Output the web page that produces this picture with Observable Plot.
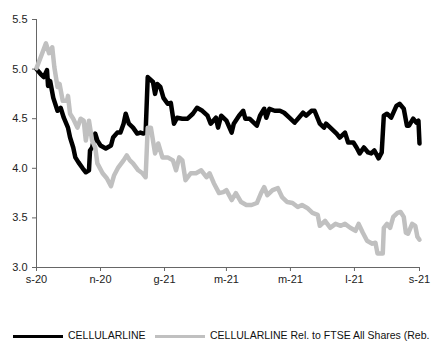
<!DOCTYPE html>
<html>
<head>
<meta charset="utf-8">
<script src="https://cdn.jsdelivr.net/npm/d3@7"></script>
<script src="https://cdn.jsdelivr.net/npm/@observablehq/plot@0.6"></script>
<style>
  html, body { margin: 0; padding: 0; background: #fff; }
  #wrap { position: relative; width: 432px; height: 341px; overflow: hidden; font-family: "Liberation Sans", Arial, sans-serif; }
  #legend { position: absolute; left: 0; top: 329px; width: 432px; height: 12px; font-size: 10.5px; color: #111; white-space: nowrap; }
  .item { position: absolute; top: 0; line-height: 12px; }
  .sw { position: absolute; top: 6px; width: 50px; height: 3px; }
  .lab { position: absolute; left: 55px; top: 0; }
</style>
</head>
<body>
<div id="wrap"><div id="chart"></div><div id="legend"></div></div>
<script>
const seriesNames = ["CELLULARLINE", "CELLULARLINE Rel. to FTSE All Shares (Reb."];

const blackDates = ["2020-09-01","2020-09-05","2020-09-08","2020-09-11","2020-09-12","2020-09-14","2020-09-17","2020-09-21","2020-09-24","2020-09-27","2020-10-01","2020-10-03","2020-10-06","2020-10-08","2020-10-11","2020-10-15","2020-10-18","2020-10-21","2020-10-22","2020-10-24","2020-10-27","2020-10-29","2020-11-01","2020-11-06","2020-11-11","2020-11-13","2020-11-17","2020-11-20","2020-11-23","2020-11-25","2020-11-28","2020-12-02","2020-12-06","2020-12-09","2020-12-12","2020-12-14","2020-12-16","2020-12-21","2020-12-23","2020-12-25","2020-12-28","2020-12-31","2021-01-04","2021-01-07","2021-01-10","2021-01-13","2021-01-18","2021-01-23","2021-01-28","2021-02-01","2021-02-06","2021-02-11","2021-02-14","2021-02-19","2021-02-21","2021-02-24","2021-03-01","2021-03-06","2021-03-08","2021-03-13","2021-03-17","2021-03-19","2021-03-23","2021-03-30","2021-04-02","2021-04-06","2021-04-08","2021-04-11","2021-04-16","2021-04-21","2021-04-25","2021-04-30","2021-05-05","2021-05-09","2021-05-13","2021-05-16","2021-05-21","2021-05-24","2021-05-29","2021-06-02","2021-06-04","2021-06-09","2021-06-14","2021-06-17","2021-06-22","2021-06-25","2021-06-30","2021-07-03","2021-07-06","2021-07-10","2021-07-14","2021-07-17","2021-07-20","2021-07-24","2021-07-27","2021-07-29","2021-08-01","2021-08-05","2021-08-10","2021-08-13","2021-08-17","2021-08-20","2021-08-22","2021-08-26","2021-08-29","2021-08-31","2021-09-01"];
const blackValues = [5.00,4.95,4.92,4.99,4.83,4.88,4.71,4.58,4.61,4.51,4.41,4.31,4.21,4.11,4.06,4.00,3.96,3.98,4.18,4.21,4.35,4.28,4.23,4.20,4.23,4.31,4.36,4.36,4.45,4.55,4.45,4.41,4.35,4.36,4.35,4.36,4.92,4.87,4.75,4.85,4.82,4.71,4.65,4.66,4.45,4.51,4.50,4.50,4.55,4.61,4.58,4.53,4.45,4.51,4.41,4.53,4.48,4.36,4.45,4.53,4.58,4.50,4.50,4.43,4.53,4.60,4.51,4.60,4.58,4.58,4.56,4.51,4.46,4.51,4.56,4.53,4.58,4.58,4.45,4.41,4.45,4.40,4.35,4.31,4.36,4.26,4.26,4.21,4.15,4.21,4.16,4.15,4.18,4.10,4.16,4.53,4.55,4.51,4.63,4.65,4.60,4.43,4.43,4.50,4.46,4.48,4.25];

const grayDates = ["2020-09-01","2020-09-05","2020-09-10","2020-09-13","2020-09-16","2020-09-18","2020-09-21","2020-09-23","2020-09-26","2020-09-30","2020-10-01","2020-10-03","2020-10-06","2020-10-10","2020-10-13","2020-10-16","2020-10-18","2020-10-21","2020-10-24","2020-10-27","2020-10-29","2020-11-03","2020-11-07","2020-11-11","2020-11-14","2020-11-18","2020-11-23","2020-11-26","2020-11-29","2020-12-02","2020-12-07","2020-12-11","2020-12-14","2020-12-16","2020-12-19","2020-12-23","2020-12-26","2020-12-30","2021-01-04","2021-01-09","2021-01-12","2021-01-15","2021-01-18","2021-01-21","2021-01-26","2021-01-31","2021-02-05","2021-02-10","2021-02-13","2021-02-17","2021-02-22","2021-02-26","2021-03-01","2021-03-06","2021-03-10","2021-03-15","2021-03-20","2021-03-25","2021-03-30","2021-04-03","2021-04-06","2021-04-09","2021-04-14","2021-04-19","2021-04-23","2021-04-28","2021-05-03","2021-05-08","2021-05-12","2021-05-17","2021-05-22","2021-05-27","2021-05-29","2021-06-03","2021-06-08","2021-06-13","2021-06-18","2021-06-22","2021-06-27","2021-07-02","2021-07-05","2021-07-09","2021-07-13","2021-07-18","2021-07-21","2021-07-23","2021-07-28","2021-07-29","2021-08-01","2021-08-04","2021-08-07","2021-08-11","2021-08-14","2021-08-17","2021-08-19","2021-08-21","2021-08-25","2021-08-28","2021-08-30","2021-09-01"];
const grayValues = [5.01,5.12,5.26,5.16,5.22,5.02,4.82,4.85,4.68,4.68,4.73,4.55,4.50,4.41,4.50,4.48,4.28,4.48,4.28,4.21,4.05,3.95,3.90,3.82,3.93,4.01,4.08,4.13,4.08,4.05,3.98,3.95,3.91,4.41,4.41,4.15,4.25,4.11,4.11,4.08,3.98,4.11,4.08,3.88,3.95,3.95,3.98,3.91,3.95,3.85,3.75,3.76,3.78,3.68,3.75,3.66,3.63,3.63,3.65,3.75,3.81,3.73,3.78,3.80,3.71,3.66,3.65,3.61,3.63,3.60,3.55,3.53,3.42,3.47,3.40,3.44,3.42,3.44,3.40,3.37,3.44,3.35,3.27,3.24,3.25,3.14,3.14,3.40,3.44,3.40,3.51,3.55,3.56,3.51,3.35,3.34,3.44,3.42,3.31,3.28];

const xTickDates = ["2020-09-01","2020-11-01","2021-01-01","2021-03-01","2021-05-01","2021-07-01","2021-09-01"];
const xTickLabels = ["s-20","n-20","g-21","m-21","m-21","l-21","s-21"];
const yTicks = [3.0, 3.5, 4.0, 4.5, 5.0, 5.5];

const seriesColors = ["#000000", "#c0c0c0"];

const parse = s => new Date(s + "T00:00:00Z");
const black = blackDates.map((d, i) => ({date: parse(d), value: blackValues[i]}));
const gray = grayDates.map((d, i) => ({date: parse(d), value: grayValues[i]}));
const tickDates = xTickDates.map(parse);
const x0 = tickDates[0], x1 = tickDates[tickDates.length - 1];

const axisColor = "#666666";

const chart = Plot.plot({
  width: 432,
  height: 300,
  marginLeft: 36,
  marginRight: 13,
  marginTop: 19,
  marginBottom: 33,
  style: {fontFamily: "'Liberation Sans', Arial, sans-serif", fontSize: "11px", color: "#222", background: "#fff", overflow: "visible"},
  x: {type: "utc", domain: [x0, x1]},
  y: {domain: [3, 5.5]},
  marks: [
    Plot.ruleX([x0], {y1: 3, y2: 5.5, stroke: axisColor, strokeWidth: 1}),
    Plot.ruleY([3], {x1: x0, x2: x1, stroke: axisColor, strokeWidth: 1}),
    Plot.axisY({ticks: yTicks, tickFormat: d => d.toFixed(1), tickSize: 4, tickPadding: 5, stroke: axisColor, fill: "#222", label: null}),
    Plot.axisX({ticks: tickDates, tickFormat: (d, i) => xTickLabels[i], tickSize: 4, tickPadding: 4, stroke: axisColor, fill: "#222", label: null}),
    Plot.line(black, {x: "date", y: "value", stroke: seriesColors[0], strokeWidth: 4.5, strokeLinejoin: "round", strokeLinecap: "round"}),
    Plot.line(gray, {x: "date", y: "value", stroke: seriesColors[1], strokeWidth: 4.5, strokeLinejoin: "round", strokeLinecap: "round"})
  ]
});
document.getElementById("chart").appendChild(chart);

const legend = document.getElementById("legend");
const lefts = [13, 155];
seriesNames.forEach((name, i) => {
  const item = document.createElement("div");
  item.className = "item";
  item.style.left = lefts[i] + "px";
  const sw = document.createElement("span");
  sw.className = "sw";
  sw.style.background = seriesColors[i];
  const lab = document.createElement("span");
  lab.className = "lab";
  lab.textContent = name;
  item.appendChild(sw);
  item.appendChild(lab);
  legend.appendChild(item);
});
</script>
</body>
</html>
